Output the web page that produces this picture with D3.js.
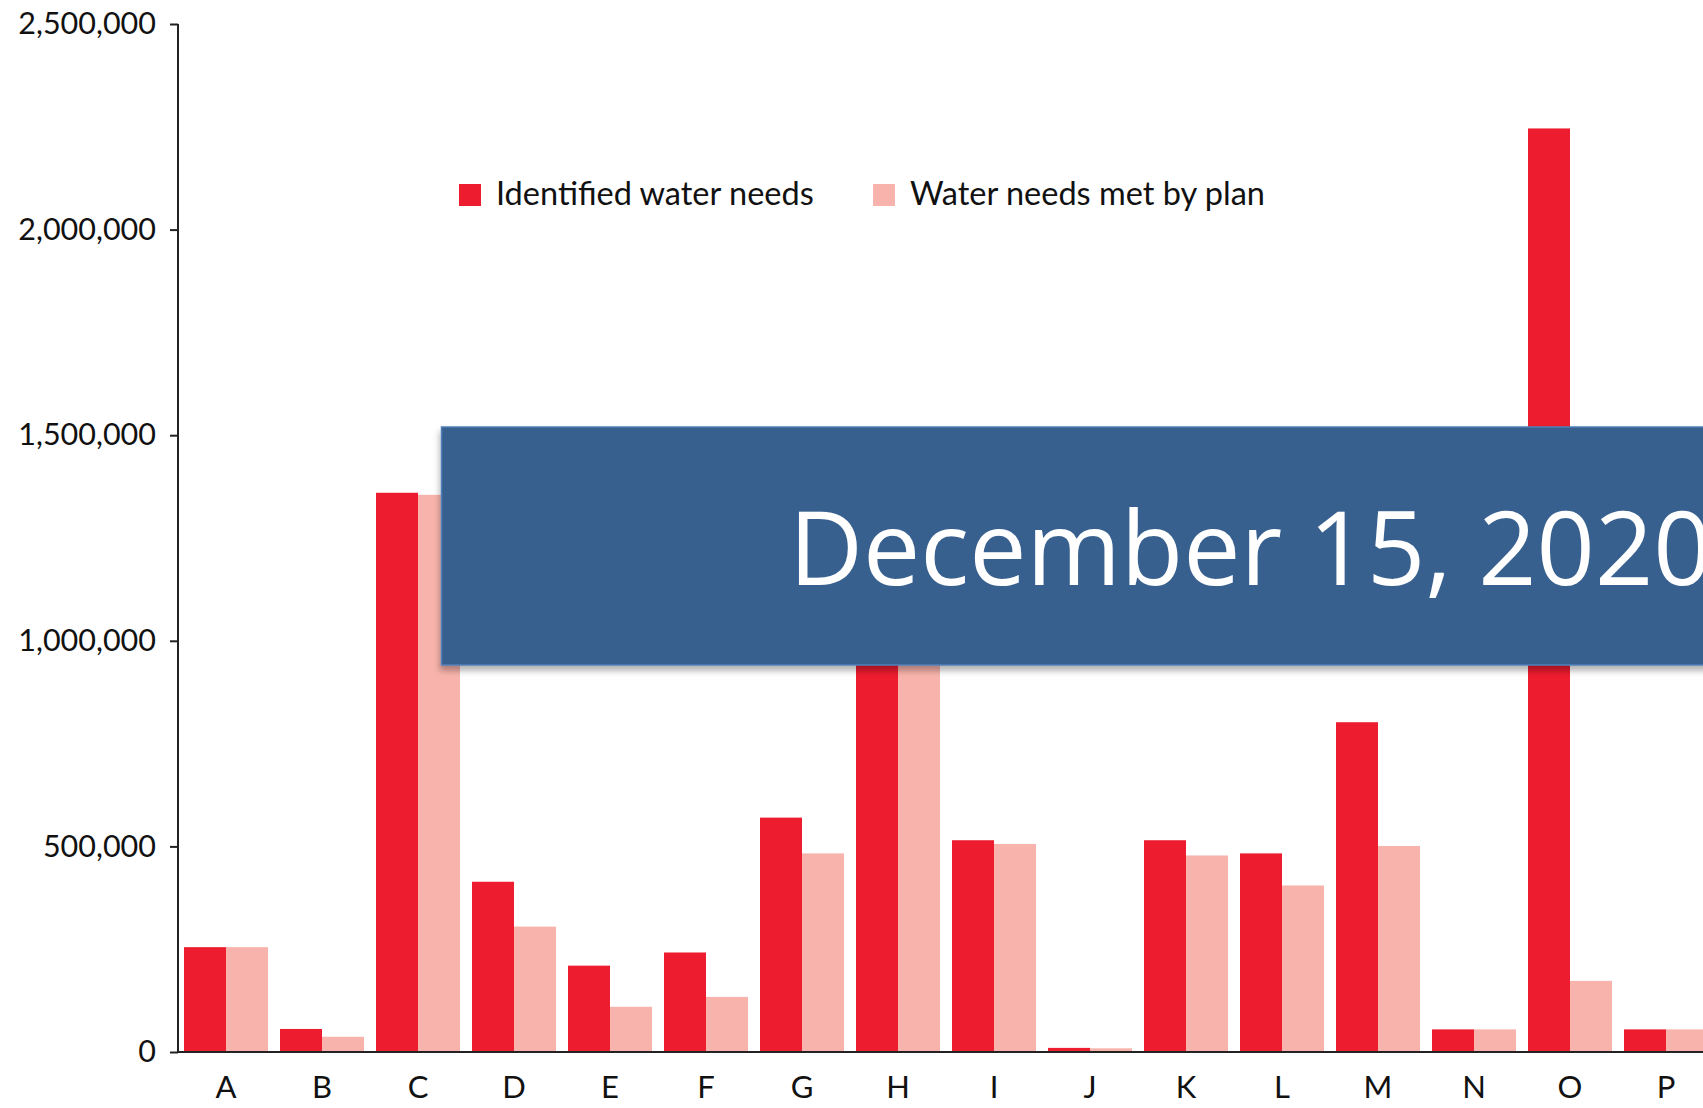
<!DOCTYPE html>
<html>
<head>
<meta charset="utf-8">
<script src="https://cdn.jsdelivr.net/npm/d3@7"></script>
<style>
  body { margin: 0; background: #fff; }
  svg { display: block; }
</style>
</head>
<body>
<div class="graphic"></div>
<script>
// data
var categories = ["A","B","C","D","E","F","G","H","I","J","K","L","M","N","O","P"];
var identifiedNeeds = [255000, 56000, 1360000, 414000, 210000, 242000, 570000, 1250000, 515000, 10000, 515000, 483000, 802000, 55000, 2246000, 55000];
var needsMet = [255000, 37000, 1355000, 305000, 110000, 134000, 483000, 1230000, 506000, 9000, 478000, 405000, 501000, 55000, 173000, 55000];
var seriesNames = ["Identified water needs", "Water needs met by plan"];
var seriesColors = ["#ed1c2e", "#f8b4ac"];
var yTicks = [0, 500000, 1000000, 1500000, 2000000, 2500000];
var bannerText = "December 15, 2020";

// set the dimensions
var W = 1703, H = 1108;
var margin = {top: 24, left: 178, bottom: 1052};

var svg = d3.select(".graphic").append("svg")
    .attr("width", W)
    .attr("height", H);

// scales
var x0 = d3.scaleBand()
    .domain(categories)
    .range([margin.left, margin.left + 16 * 96])
    .paddingInner(0.125)
    .paddingOuter(0.0625);
var x1 = d3.scaleBand()
    .domain([0, 1])
    .range([0, x0.bandwidth()]);
var y = d3.scaleLinear()
    .domain([0, 2500000])
    .range([margin.bottom, margin.top]);

var rows = categories.map(function(c, i) {
  return {cat: c, values: [identifiedNeeds[i], needsMet[i]]};
});

// bars
var groups = svg.selectAll(".grp")
    .data(rows)
    .enter().append("g")
    .attr("class", "grp")
    .attr("transform", function(d) { return "translate(" + x0(d.cat) + ",0)"; });

groups.selectAll("rect")
    .data(function(d) { return d.values.map(function(v, k) { return {k: k, v: v}; }); })
    .enter().append("rect")
    .attr("x", function(d) { return x1(d.k); })
    .attr("width", x1.bandwidth())
    .attr("y", function(d) { return y(d.v); })
    .attr("height", function(d) { return y(0) - y(d.v); })
    .attr("fill", function(d) { return seriesColors[d.k]; });

// y axis
var yAxis = svg.append("g")
    .attr("transform", "translate(" + margin.left + ",0)")
    .call(d3.axisLeft(y).tickValues(yTicks).tickSize(8).tickPadding(14)
      .tickFormat(d3.format(",")));
yAxis.select(".domain").attr("stroke", "#222").attr("stroke-width", 2)
    .attr("d", "M0," + y(2500000) + "V" + y(0));
yAxis.selectAll(".tick line").attr("stroke", "#222").attr("stroke-width", 2);
yAxis.selectAll(".tick text")
    .attr("fill", "#111")
    .style("font-family", "Lato, 'Open Sans', sans-serif")
    .style("font-size", "30.5px");

// x axis
var xAxis = svg.append("g")
    .attr("transform", "translate(0," + y(0) + ")")
    .call(d3.axisBottom(x0).tickSize(0).tickPadding(24));
xAxis.select(".domain").attr("stroke", "#222").attr("stroke-width", 2)
    .attr("d", "M" + margin.left + ",0H" + W);
xAxis.selectAll(".tick text")
    .attr("fill", "#111")
    .style("font-family", "Lato, 'Open Sans', sans-serif")
    .style("font-size", "31px");

// legend
var legendX = [459, 873];
var legend = svg.selectAll(".legend")
    .data(seriesNames)
    .enter().append("g")
    .attr("class", "legend")
    .attr("transform", function(d, i) { return "translate(" + legendX[i] + ",184)"; });
legend.append("rect")
    .attr("width", 22).attr("height", 22)
    .attr("fill", function(d, i) { return seriesColors[i]; });
legend.append("text")
    .attr("x", 37).attr("y", 21)
    .attr("fill", "#111")
    .style("font-family", "Lato, 'Open Sans', sans-serif")
    .style("font-size", "32.5px")
    .text(function(d) { return d; });

// date banner laid over the chart
var defs = svg.append("defs");
var f = defs.append("filter").attr("id", "shadow")
    .attr("x", "-5%").attr("y", "-5%").attr("width", "120%").attr("height", "130%");
f.append("feDropShadow")
    .attr("dx", -1).attr("dy", 5).attr("stdDeviation", 3)
    .attr("flood-color", "#000").attr("flood-opacity", 0.3);

svg.append("rect")
    .attr("x", 441.5).attr("y", 427)
    .attr("width", W - 441.5 + 20).attr("height", 238)
    .attr("fill", "#37618f")
    .attr("stroke", "#4f7fb8").attr("stroke-width", 1.5)
    .attr("filter", "url(#shadow)");

svg.append("text")
    .attr("x", 789).attr("y", 585)
    .attr("fill", "#fff")
    .style("font-family", "'Open Sans', sans-serif")
    .style("font-size", "102px")
    .text(bannerText);
</script>
</body>
</html>
